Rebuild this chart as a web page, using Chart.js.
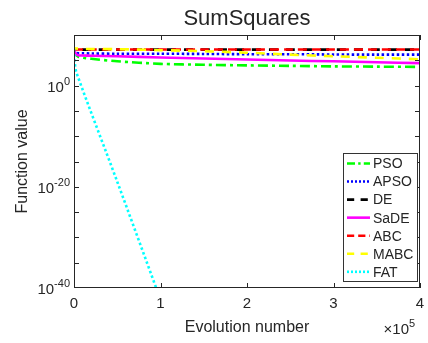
<!DOCTYPE html>
<html>
<head>
<meta charset="utf-8">
<script src="https://cdn.jsdelivr.net/npm/chart.js@4"></script>
<style>
  body { margin: 0; background: #fff; }
  #wrap { width: 428px; height: 343px; }
</style>
</head>
<body>
<div id="wrap"><canvas id="myChart" width="428" height="343"></canvas></div>
<script>
// evaluation counts where the curves were read
const evals = [0, 2000, 5000, 10000, 20000, 50000, 100000, 150000, 200000, 250000, 300000, 350000, 400000];
const fatEvals = [0, 1000, 3000, 50000, 95000, 100000];

const labels = ['PSO', 'APSO', 'DE', 'SaDE', 'ABC', 'MABC', 'FAT'];

const pso  = [1.6e7, 1.6e6, 5e5, 3.2e5, 2e5, 6.3e4, 2e4, 1.3e4, 1e4, 8e3, 6.3e3, 5.6e3, 5e3];
const apso = [1.6e7, 3.2e6, 2.5e6, 2.5e6, 2.2e6, 2e6, 2e6, 1.8e6, 1.6e6, 1.6e6, 1.4e6, 1.3e6, 1.3e6];
const de   = [1.6e7, 1.3e7, 1.3e7, 1.3e7, 1.3e7, 1.3e7, 1.3e7, 1.3e7, 1.3e7, 1.3e7, 1.3e7, 1.3e7, 1.3e7];
const sade = [1.6e7, 2e6, 1e6, 8.9e5, 7.9e5, 6.3e5, 3.5e5, 2.2e5, 1.4e5, 8.9e4, 6.3e4, 4e4, 2.8e4];
const abc  = [1.6e7, 1.4e7, 1.4e7, 1.4e7, 1.4e7, 1.4e7, 1.4e7, 1.4e7, 1.4e7, 1.4e7, 1.4e7, 1.4e7, 1.4e7];
const mabc = [2.5e7, 2.2e7, 2e7, 1.8e7, 1.7e7, 1.6e7, 1e7, 6.3e6, 3.2e6, 1.3e6, 6.3e5, 3.2e5, 1.6e5];
const fat  = [1.6e7, 3e4, 3e2, 1e-19, 1e-40, 3e-43];

const xTicks = [0, 100000, 200000, 300000, 400000];
const yLabelExps = [0, -20, -40];
const yTickExps = [5, 0, -5, -10, -15, -20, -25, -30, -35];

const colors = ['#00ff00', '#0000ff', '#000000', '#ff00ff', '#ff0000', '#ffff00', '#00ffff'];
const dashes = [[10, 4, 3, 4], [2.5, 2.5], [9, 8], [], [9, 5], [9, 8], [2.5, 2.5]];
const series = [pso, apso, de, sade, abc, mabc, fat];

const ink = '#262626';
const font = '"Liberation Sans", Arial, sans-serif';

const datasets = series.map((vals, i) => {
  const xs = i === 6 ? fatEvals : evals;
  return {
    label: labels[i],
    data: vals.map((v, j) => ({ x: xs[j], y: v })),
    borderColor: colors[i],
    borderDash: dashes[i],
    borderWidth: 2.6,
    pointRadius: 0,
    tension: 0.3,
    fill: false,
    order: 7 - i
  };
});
// DE dashes sit in the gaps of the ABC ones
datasets[2].borderDashOffset = 9;
datasets[5].borderDashOffset = 5;

const decor = {
  id: 'decor',
  afterDraw(chart) {
    const c = chart.ctx;
    const a = chart.chartArea;
    const xs = chart.scales.x;
    const ys = chart.scales.y;
    c.save();
    // box
    c.strokeStyle = ink;
    c.lineWidth = 1;
    c.strokeRect(a.left + 0.5, a.top + 0.5, a.right - a.left - 1, a.bottom - a.top - 1);
    // ticks, inward
    c.beginPath();
    xTicks.forEach(v => {
      const px = Math.round(xs.getPixelForValue(v)) + 0.5;
      c.moveTo(px, a.bottom); c.lineTo(px, a.bottom - 5);
      c.moveTo(px, a.top); c.lineTo(px, a.top + 5);
    });
    yTickExps.forEach(e => {
      const py = Math.round(ys.getPixelForValue(Math.pow(10, e))) + 0.5;
      c.moveTo(a.left, py); c.lineTo(a.left + 5, py);
      c.moveTo(a.right, py); c.lineTo(a.right - 5, py);
    });
    c.stroke();

    c.fillStyle = ink;
    // x tick labels
    c.font = '15px ' + font;
    c.textAlign = 'center';
    c.textBaseline = 'middle';
    xTicks.forEach(v => {
      c.fillText(String(v / 100000), xs.getPixelForValue(v), a.bottom + 16);
    });
    // y tick labels 10^n
    yLabelExps.forEach(e => {
      const py = ys.getPixelForValue(Math.pow(10, e));
      const ex = String(e);
      c.font = '11px ' + font;
      const w = c.measureText(ex).width;
      const right = a.left - 4;
      c.textAlign = 'left';
      c.textBaseline = 'alphabetic';
      c.fillText(ex, right - w, py - 1);
      c.font = '15px ' + font;
      c.textAlign = 'right';
      c.textBaseline = 'middle';
      c.fillText('10', right - w, py + 2);
    });
    // x10^5
    c.font = '15px ' + font;
    c.textAlign = 'right';
    c.textBaseline = 'middle';
    c.fillText('\u00d710', 409, 330);
    c.font = '11px ' + font;
    c.textAlign = 'left';
    c.textBaseline = 'alphabetic';
    c.fillText('5', 409, 327);

    // titles
    c.textAlign = 'center';
    c.textBaseline = 'alphabetic';
    c.font = '22px ' + font;
    c.fillText('SumSquares', (a.left + a.right) / 2, 25);
    c.font = '16px ' + font;
    c.fillText('Evolution number', (a.left + a.right) / 2, 332);
    c.save();
    c.translate(27, (a.top + a.bottom) / 2);
    c.rotate(-Math.PI / 2);
    c.fillText('Function value', 0, 0);
    c.restore();

    // legend box
    const lx = 343, ly = 153, lw = 74, lh = 128;
    c.fillStyle = '#fff';
    c.fillRect(lx, ly, lw, lh);
    c.strokeStyle = '#333';
    c.strokeRect(lx + 0.5, ly + 0.5, lw, lh);
    c.font = '14px ' + font;
    c.textAlign = 'left';
    c.textBaseline = 'middle';
    chart.data.datasets.forEach((ds, i) => {
      const yy = 163.5 + i * 18.05;
      c.beginPath();
      c.strokeStyle = ds.borderColor;
      c.lineWidth = 2.6;
      c.setLineDash(ds.borderDash.length ? ds.borderDash.map(d => d * 0.8) : []);
      c.moveTo(347, yy);
      c.lineTo(370, yy);
      c.stroke();
      c.setLineDash([]);
      c.fillStyle = ink;
      c.fillText(ds.label, 373, yy + 1);
    });
    c.restore();
  }
};

new Chart(document.getElementById('myChart'), {
  type: 'line',
  data: { datasets: datasets },
  options: {
    responsive: false,
    animation: false,
    layout: { padding: { left: 74, right: 8, top: 35, bottom: 55 } },
    plugins: { legend: { display: false }, tooltip: { enabled: false }, title: { display: false } },
    scales: {
      x: {
        type: 'linear', min: 0, max: 400000,
        display: false
      },
      y: {
        type: 'logarithmic', min: 1e-40, max: 1e10,
        display: false
      }
    }
  },
  plugins: [decor]
});
</script>
</body>
</html>
